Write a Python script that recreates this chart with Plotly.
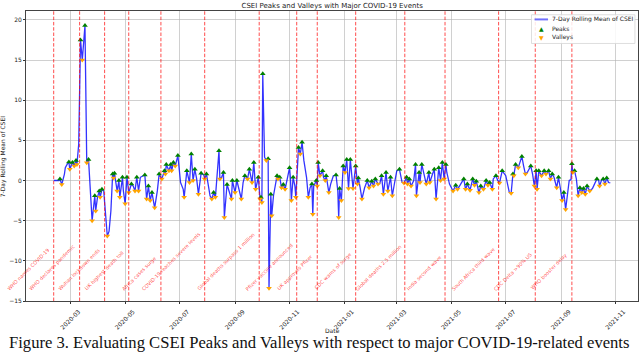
import plotly.graph_objects as go

dates = [
"2020-02-11","2020-02-17","2020-02-18","2020-02-20","2020-02-23","2020-02-24","2020-02-26","2020-02-28","2020-02-29",
"2020-03-03","2020-03-05","2020-03-07","2020-03-08","2020-03-10","2020-03-12","2020-03-14","2020-03-17","2020-03-19",
"2020-03-21","2020-03-25","2020-03-28","2020-03-29","2020-03-31","2020-04-02","2020-04-03","2020-04-05","2020-04-07",
"2020-04-09","2020-04-11","2020-04-13","2020-04-15","2020-04-17","2020-04-18","2020-04-19","2020-04-22","2020-04-24",
"2020-04-25","2020-04-28","2020-04-29","2020-05-01","2020-05-03","2020-05-05","2020-05-08","2020-05-10","2020-05-12",
"2020-05-14","2020-05-16","2020-05-18","2020-05-20","2020-05-23","2020-05-25","2020-05-27","2020-05-29","2020-05-31",
"2020-06-03","2020-06-06","2020-06-08","2020-06-11","2020-06-14","2020-06-15","2020-06-16","2020-06-19","2020-06-21",
"2020-06-22","2020-06-24","2020-06-26","2020-06-29","2020-07-02","2020-07-05","2020-07-06","2020-07-09","2020-07-11",
"2020-07-12","2020-07-14","2020-07-16","2020-07-18","2020-07-20","2020-07-22","2020-07-25","2020-07-28","2020-07-29",
"2020-07-31","2020-08-02","2020-08-04","2020-08-06","2020-08-08","2020-08-10","2020-08-12","2020-08-14","2020-08-15",
"2020-08-17","2020-08-19","2020-08-20","2020-08-23","2020-08-26","2020-08-28","2020-08-29","2020-09-01","2020-09-03",
"2020-09-06","2020-09-08","2020-09-10","2020-09-12","2020-09-15","2020-09-17","2020-09-20","2020-09-22","2020-09-24",
"2020-09-27","2020-09-29","2020-09-30","2020-10-01","2020-10-02","2020-10-04","2020-10-06","2020-10-08","2020-10-09",
"2020-10-11","2020-10-12","2020-10-14","2020-10-18","2020-10-19","2020-10-21","2020-10-23","2020-10-25","2020-10-27",
"2020-10-29","2020-11-01","2020-11-02","2020-11-03","2020-11-05","2020-11-07","2020-11-08","2020-11-10","2020-11-11",
"2020-11-13","2020-11-15","2020-11-17","2020-11-20","2020-11-22","2020-11-24","2020-11-26","2020-11-27","2020-11-28",
"2020-12-01","2020-12-02","2020-12-03","2020-12-05","2020-12-08","2020-12-09","2020-12-11","2020-12-12","2020-12-15",
"2020-12-17","2020-12-20","2020-12-23","2020-12-25","2020-12-26","2020-12-27","2020-12-29","2020-12-31","2021-01-02",
"2021-01-04","2021-01-06","2021-01-08","2021-01-11","2021-01-14","2021-01-16","2021-01-17","2021-01-19","2021-01-21",
"2021-01-24","2021-01-27","2021-01-29","2021-02-01","2021-02-03","2021-02-05","2021-02-08","2021-02-10","2021-02-12",
"2021-02-14","2021-02-17","2021-02-19","2021-02-22","2021-02-24","2021-02-27","2021-03-01","2021-03-04","2021-03-07",
"2021-03-09","2021-03-12","2021-03-13","2021-03-15","2021-03-17","2021-03-20","2021-03-22","2021-03-23","2021-03-26",
"2021-03-27","2021-03-29","2021-04-01","2021-04-03","2021-04-06","2021-04-07","2021-04-10","2021-04-12","2021-04-14",
"2021-04-17","2021-04-19","2021-04-21","2021-04-23","2021-04-25","2021-04-26","2021-04-29","2021-05-03","2021-05-06",
"2021-05-08","2021-05-12","2021-05-15","2021-05-17","2021-05-19","2021-05-22","2021-05-25","2021-05-27","2021-05-29",
"2021-06-01","2021-06-03","2021-06-06","2021-06-09","2021-06-11","2021-06-13","2021-06-16","2021-06-17","2021-06-20",
"2021-06-22","2021-06-24","2021-06-27","2021-07-01","2021-07-05","2021-07-07","2021-07-09","2021-07-10","2021-07-12",
"2021-07-15","2021-07-19","2021-07-21","2021-07-23","2021-07-25","2021-07-29","2021-07-31","2021-08-02","2021-08-04",
"2021-08-05","2021-08-07","2021-08-10","2021-08-13","2021-08-15","2021-08-18","2021-08-20","2021-08-22","2021-08-24",
"2021-08-27","2021-08-29","2021-08-31","2021-09-02","2021-09-04","2021-09-06","2021-09-08","2021-09-10","2021-09-12",
"2021-09-13","2021-09-14","2021-09-16","2021-09-18","2021-09-20","2021-09-22","2021-09-24","2021-09-26","2021-09-28",
"2021-09-30","2021-10-01","2021-10-03","2021-10-06","2021-10-09","2021-10-11","2021-10-13","2021-10-14","2021-10-16",
"2021-10-18","2021-10-20","2021-10-22","2021-10-24","2021-10-26",
]

csei_rolling = [
0.0,0.0,0.2,-0.5,0.8,1.6,2.0,2.3,1.4,
2.25,1.8,2.5,2.0,4.5,17.5,15.0,19.3,2.2,
2.6,-5.0,-1.9,-3.8,-2.1,-1.3,-2.1,-1.1,-1.3,
-4.2,-6.9,-6.3,-3.8,0.8,0.3,0.9,-1.3,0.0,
-2.1,0.4,-1.3,-2.9,0.4,-1.5,-0.45,-0.7,-1.3,
0.4,-1.3,0.4,0.5,0.7,-2.3,-0.7,-2.5,-1.5,
-3.4,-1.3,0.8,0.2,1.2,0.8,2.0,1.2,2.0,
1.2,2.25,1.8,3.1,-0.25,-1.1,-2.1,1.2,0.4,
-0.25,3.3,0.0,1.4,0.2,-1.7,0.9,0.7,0.2,
0.8,-0.9,-1.9,-2.3,-1.5,-2.1,0.4,3.7,0.2,
0.4,1.0,-4.6,-0.5,-1.7,-2.3,0.0,-1.5,0.0,
-1.3,-2.3,-0.25,0.6,0.2,1.4,-0.25,2.25,-1.1,
0.4,-2.3,-2.1,-2.75,13.3,2.9,2.5,2.7,-13.4,
-1.7,-4.4,-1.9,0.6,0.2,0.4,-0.9,-0.5,-1.1,
0.0,1.6,0.2,-2.5,0.4,-0.7,-2.1,2.9,4.1,
3.3,4.75,2.5,0.4,-2.1,-0.9,-0.45,-4.2,-0.7,
0.0,-0.7,2.25,0.6,1.2,0.4,0.0,0.6,-1.5,
-0.45,0.6,0.7,-1.3,-4.6,-1.0,-2.5,1.8,1.0,
2.6,-1.0,2.6,-1.0,1.8,-0.45,0.3,-0.9,-2.3,
-0.9,0.0,-0.9,-0.1,-0.7,0.2,-0.45,-0.4,0.6,
-1.7,1.0,-1.3,0.4,-1.9,0.0,1.2,1.4,-0.25,
-0.3,0.4,-0.45,0.2,-0.7,0.0,2.0,-1.9,1.0,
-0.25,2.0,0.6,-0.45,1.0,-0.25,0.8,1.4,-2.3,
1.6,0.0,2.25,0.2,2.0,1.0,-0.45,-1.3,-0.6,
-1.1,-0.45,0.2,-1.1,-0.45,-1.2,0.2,-0.6,-0.1,
-1.5,-0.7,-1.1,0.0,-0.6,-0.25,-1.1,0.2,0.6,
0.0,-0.3,1.2,0.6,-1.5,-1.6,0.8,0.6,2.0,
1.6,3.0,1.8,0.8,1.0,1.8,0.8,-0.7,1.2,
-1.1,1.2,0.6,1.2,0.8,1.2,0.2,0.8,0.4,
-0.9,0.4,-0.9,-2.5,-1.5,-3.6,-1.8,0.0,0.1,
2.1,1.0,1.2,0.2,-1.9,-0.9,-1.5,-1.0,-1.7,
-0.7,-0.9,-1.3,-1.0,-0.2,0.2,0.0,-0.7,0.0,
0.2,-0.45,0.3,-0.25,-0.3,
]

event_dates = [
"2020-02-11","2020-03-11","2020-04-08","2020-05-05","2020-06-10","2020-07-29","2020-09-28","2020-11-09",
"2020-12-02","2021-01-14","2021-03-10","2021-04-24","2021-06-23","2021-08-03","2021-09-13",
]
event_labels = [
"WHO names COVID-19","WHO declares pandemic","Wuhan lockdown ends","UK highest death toll",
"Africa cases surge","COVID-19 reaches severe levels","Global deaths surpass 1 million",
"Pfizer vaccine announced","UK approves Pfizer","CDC warns of surge","Global deaths 2.5 million",
"India second wave","South Africa third wave","CDC Delta >90% US","WHO booster delay",
]

legend_labels = ["7-Day Rolling Mean of CSEI", "Peaks", "Valleys"]

# local extrema of the rolling mean
peak_idx = [i for i in range(1, len(csei_rolling) - 1)
            if csei_rolling[i] > csei_rolling[i - 1] and csei_rolling[i] > csei_rolling[i + 1]]
valley_idx = [i for i in range(1, len(csei_rolling) - 1)
              if csei_rolling[i] < csei_rolling[i - 1] and csei_rolling[i] < csei_rolling[i + 1]]

FONT = "DejaVu Sans"
LINE_COLOR = "rgba(0,0,255,0.8)"
fig = go.Figure()
fig.add_trace(go.Scatter(x=dates, y=csei_rolling, mode="lines", name=legend_labels[0],
                         line=dict(color=LINE_COLOR, width=1.3), showlegend=False))
fig.add_trace(go.Scatter(x=[dates[i] for i in peak_idx], y=[csei_rolling[i] for i in peak_idx],
                         mode="markers", name=legend_labels[1], showlegend=False,
                         marker=dict(symbol="triangle-up", color="green", size=5)))
fig.add_trace(go.Scatter(x=[dates[i] for i in valley_idx], y=[csei_rolling[i] for i in valley_idx],
                         mode="markers", name=legend_labels[2], showlegend=False,
                         marker=dict(symbol="triangle-down", color="orange", size=5)))

shapes = []
annotations = []
for d, lab in zip(event_dates, event_labels):
    shapes.append(dict(type="line", xref="x", yref="paper", x0=d, x1=d, y0=0, y1=1,
                       line=dict(color="rgba(255,0,0,0.7)", width=1, dash="3.5px,1.8px")))
    annotations.append(dict(x=d, y=-14.2, xref="x", yref="y", text=lab, showarrow=False,
                            textangle=-45, xanchor="right", yanchor="bottom",
                            font=dict(family=FONT, size=5, color="rgba(255,0,0,0.72)")))

# compact legend box (matplotlib style)
shapes.append(dict(type="rect", xref="paper", yref="paper", x0=0.826, x1=0.995, y0=0.888, y1=0.987,
                   line=dict(color="#d5d5d5", width=0.8), fillcolor="rgba(255,255,255,0.85)", layer="above"))
shapes.append(dict(type="line", xref="paper", yref="paper", x0=0.831, x1=0.853, y0=0.971, y1=0.971,
                   line=dict(color="rgba(0,0,255,0.55)", width=2), layer="above"))
legend_rows_y = [0.971, 0.940, 0.910]
for lab, yy in zip(legend_labels, legend_rows_y):
    annotations.append(dict(text=lab, xref="paper", yref="paper", x=0.857, y=yy, showarrow=False,
                            xanchor="left", yanchor="middle", font=dict(family=FONT, size=6, color="#222")))
annotations.append(dict(text="▲", xref="paper", yref="paper", x=0.842, y=legend_rows_y[1], showarrow=False,
                        xanchor="center", yanchor="middle", font=dict(family=FONT, size=6, color="green")))
annotations.append(dict(text="▼", xref="paper", yref="paper", x=0.842, y=legend_rows_y[2], showarrow=False,
                        xanchor="center", yanchor="middle", font=dict(family=FONT, size=6, color="orange")))

annotations += [
    dict(text="Date", xref="paper", yref="paper", x=0.5, y=-0.103, showarrow=False,
         xanchor="center", yanchor="middle", font=dict(family=FONT, size=6, color="#222")),
    dict(text="7-Day Rolling Mean of CSEI", xref="paper", yref="paper", x=-0.037, y=0.5,
         showarrow=False, textangle=-90, xanchor="center", yanchor="middle",
         font=dict(family=FONT, size=6, color="#222")),
    dict(text="Figure 3. Evaluating CSEI Peaks and Valleys with respect to major COVID-19-related events",
         xref="paper", yref="paper", x=0.478, y=-0.143, showarrow=False, xanchor="center",
         yanchor="middle", font=dict(family="Liberation Serif", size=16.6, color="#111")),
]

fig.update_layout(
    width=640, height=354,
    margin=dict(l=26, r=2, t=11, b=53),
    paper_bgcolor="white", plot_bgcolor="white",
    title=dict(text="CSEI Peaks and Valleys with Major COVID-19 Events", x=0.519, xanchor="center",
               y=0.983, yanchor="middle", font=dict(family=FONT, size=7, color="#222")),
    shapes=shapes, annotations=annotations,
    showlegend=False,
)
fig.update_xaxes(range=["2020-01-11", "2021-11-26"], tick0="2020-03-01", dtick="M2", tickformat="%Y-%m",
                 tickangle=-45, ticks="outside", ticklen=2, tickcolor="#333",
                 tickfont=dict(family=FONT, size=6, color="#222"), ticklabelshift=8, ticklabelstandoff=2,
                 showgrid=True, gridcolor="rgba(176,176,176,0.6)", gridwidth=0.8,
                 showline=True, mirror=True, linecolor="#444", linewidth=0.8, zeroline=False)
fig.update_yaxes(range=[-15, 21.1], tick0=0, dtick=5, ticks="outside", ticklen=2, tickcolor="#333",
                 tickfont=dict(family=FONT, size=6, color="#222"),
                 showgrid=True, gridcolor="rgba(176,176,176,0.6)", gridwidth=0.8,
                 showline=True, mirror=True, linecolor="#444", linewidth=0.8, zeroline=False)

fig.write_html("out.html", config={"displayModeBar": False},
               post_script="document.body.style.margin='0px';")
